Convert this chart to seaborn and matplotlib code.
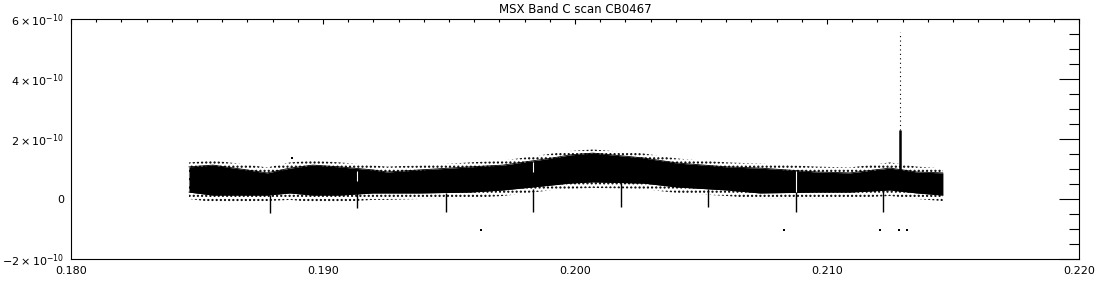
import matplotlib
matplotlib.use("Agg")
import matplotlib.pyplot as plt
import matplotlib.ticker as mticker
import seaborn as sns
import pandas as pd

# ---- data (flux in units of 1e-10) ----
env_x = [0.18468, 0.18563, 0.18698, 0.18778, 0.18869, 0.18960, 0.19067, 0.19198,
         0.19254, 0.19385, 0.19583, 0.19714, 0.19913, 0.19980, 0.20071, 0.20270,
         0.20405, 0.20603, 0.20734, 0.20960, 0.21091, 0.21250, 0.21357, 0.21460]
core_upper = [1.07, 1.13, 0.97, 0.87, 1.03, 1.13, 1.07, 0.97, 0.90, 0.97, 1.07, 1.13,
              1.37, 1.47, 1.53, 1.37, 1.20, 1.07, 1.03, 0.90, 0.87, 1.03, 0.90, 0.87]
core_lower = [0.23, 0.13, 0.13, 0.13, 0.20, 0.13, 0.13, 0.20, 0.20, 0.20, 0.23, 0.30,
              0.47, 0.53, 0.57, 0.53, 0.40, 0.30, 0.20, 0.23, 0.23, 0.30, 0.20, 0.13]
outer_upper = [1.22, 1.28, 1.15, 1.05, 1.22, 1.28, 1.22, 1.12, 1.08, 1.12, 1.22, 1.28,
               1.52, 1.60, 1.65, 1.52, 1.35, 1.22, 1.18, 1.08, 1.05, 1.22, 1.08, 1.02]
outer_lower = [0.00, -0.10, -0.10, -0.07, -0.03, -0.10, -0.10, -0.03, -0.03, 0.00, 0.03, 0.10,
               0.30, 0.33, 0.37, 0.33, 0.20, 0.10, 0.00, 0.00, 0.03, 0.10, 0.00, -0.07]

dip_x = [0.18790, 0.19135, 0.19488, 0.19833, 0.20183, 0.20528, 0.20877, 0.21222]
dip_depth = [-0.47, -0.30, -0.43, -0.43, -0.27, -0.27, -0.43, -0.43]
dip_base = [0.15, 0.20, 0.20, 0.35, 0.55, 0.35, 0.22, 0.30]

gap_x = [0.19135, 0.19833, 0.20877]
gap_top = [0.95, 1.25, 0.95]
gap_bottom = [0.60, 0.90, 0.25]

spike_x = 0.21290
spike_dense = [0.90, 2.30]
spike_sparse = [2.30, 5.57]

outlier_x = [0.18875, 0.19627, 0.20830, 0.21210, 0.21286, 0.21317]
outlier_y = [1.37, -1.03, -1.03, -1.03, -1.03, -1.03]

title = "MSX Band C scan CB0467"
xticks = [0.180, 0.190, 0.200, 0.210, 0.220]
yticks = [-2, 0, 2, 4, 6]

# ---- plot ----
sns.set_style("white")
plt.rcParams['font.family'] = ['DejaVu Sans']
fig = plt.figure(figsize=(11, 3), dpi=100)
ax = fig.add_axes([71/1100, 41/300, 1008/1100, 240/300])

df = pd.DataFrame({"x": env_x, "upper": core_upper, "lower": core_lower,
                   "oup": outer_upper, "olo": outer_lower})

# sparse speckle halo
ax.fill_between(df["x"], df["olo"], df["oup"], facecolor="white", edgecolor="black",
                hatch="....", linewidth=0)
# dense core
ax.fill_between(df["x"], df["lower"], df["upper"], color="black", linewidth=0)
sns.lineplot(data=df, x="x", y="upper", ax=ax, color="black", lw=0.6)
sns.lineplot(data=df, x="x", y="lower", ax=ax, color="black", lw=0.6)

ax.vlines(dip_x, dip_depth, dip_base, color="black", lw=1.0)
ax.vlines(gap_x, gap_bottom, gap_top, color="white", lw=0.8)
ax.vlines([spike_x], [spike_dense[0]], [spike_dense[1]], color="black", lw=1.8)
ax.vlines([spike_x], [spike_sparse[0]], [spike_sparse[1]], color="black", lw=0.8,
          linestyles=(0, (1, 3)))
sns.scatterplot(x=outlier_x, y=outlier_y, ax=ax, color="black", s=2, marker="s",
                edgecolor=None, linewidth=0)

ax.set_xlim(0.180, 0.220)
ax.set_ylim(-2, 6)
ax.set_xlabel("")
ax.set_ylabel("")
ax.set_xticks(xticks)
ax.set_xticklabels([f"{t:.3f}" for t in xticks])
ax.xaxis.set_minor_locator(mticker.MultipleLocator(0.001))
ax.set_yticks(yticks)
ax.set_yticklabels([r"$-2\times10^{-10}$" if t == -2 else ("0" if t == 0 else rf"${t}\times10^{{-10}}$")
                    for t in yticks])
ax.yaxis.set_minor_locator(mticker.MultipleLocator(0.5))

for s in ax.spines.values():
    s.set_visible(True)
    s.set_color("black")
    s.set_linewidth(0.8)

ax.tick_params(axis="both", which="both", direction="in", top=True, right=True,
               color="black", width=0.8, labelsize=8, labelcolor="black")
ax.tick_params(axis="y", which="major", length=14.4, pad=5)
ax.tick_params(axis="y", which="minor", length=7.2)
ax.tick_params(axis="x", which="major", length=3.6, pad=5)
ax.tick_params(axis="x", which="minor", length=1.8)

ax.set_title(title, fontsize=8.5, pad=4, color="black")

fig.savefig("out.png", dpi=100, facecolor="white")
